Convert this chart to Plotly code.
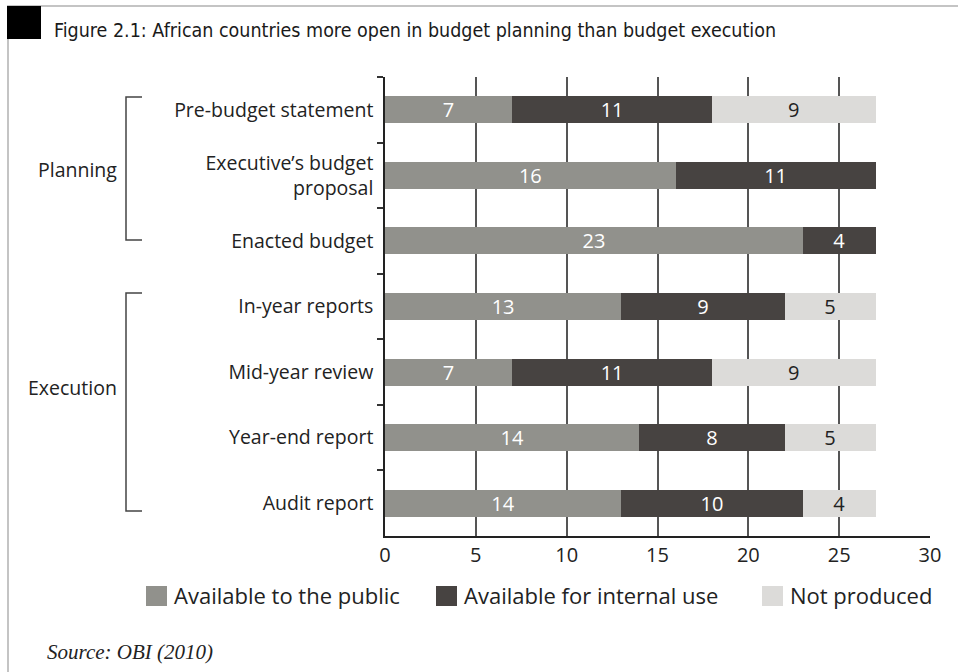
import plotly.graph_objects as go

# ---- data ----
categories = ["Pre-budget statement", "Executive’s budget<br>proposal", "Enacted budget",
              "In-year reports", "Mid-year review", "Year-end report", "Audit report"]
series_names = ["Available to the public", "Available for internal use", "Not produced"]
public = [7, 16, 23, 13, 7, 14, 13]
internal = [11, 11, 4, 9, 11, 8, 10]
not_produced = [9, 0, 0, 5, 9, 5, 4]
public_labels = ["7", "16", "23", "13", "7", "14", "14"]
internal_labels = ["11", "11", "4", "9", "11", "8", "10"]
not_produced_labels = ["9", "", "", "5", "9", "5", "4"]
x_ticks = [0, 5, 10, 15, 20, 25, 30]
groups = ["Planning", "Execution"]
title_text = "Figure 2.1: African countries more open in budget planning than budget execution"
source_text = "Source: OBI (2010)"

colors = ["#91918c", "#474341", "#dcdbd9"]
text_colors = ["#ffffff", "#ffffff", "#222222"]
FONT = "'Open Sans', Lato, sans-serif"

W, H = 958, 672
L, R, T, B = 385, 28, 77, 136
PW, PH = W - L - R, H - T - B


def px(xp):
    return (xp - L) / PW


def py(yp):
    return (H - B - yp) / PH


fig = go.Figure()
for name, vals, labs, col, tcol in zip(series_names,
                                       [public, internal, not_produced],
                                       [public_labels, internal_labels, not_produced_labels],
                                       colors, text_colors):
    fig.add_trace(go.Bar(
        y=categories, x=vals, name=name, orientation="h",
        marker=dict(color=col, line=dict(width=0)),
        text=labs, textposition="inside", insidetextanchor="middle", textangle=0,
        constraintext="none",
        textfont=dict(family=FONT, size=20, color=tcol),
        showlegend=False, hoverinfo="skip",
    ))

shapes = []
annotations = []

# frame lines
shapes.append(dict(type="line", xref="paper", yref="paper", x0=px(7), x1=px(958), y0=py(6), y1=py(6),
                   line=dict(color="#c4c4c4", width=2)))
shapes.append(dict(type="line", xref="paper", yref="paper", x0=px(8), x1=px(8), y0=py(6), y1=py(672),
                   line=dict(color="#c4c4c4", width=2)))
# black square
shapes.append(dict(type="rect", xref="paper", yref="paper", x0=px(7), x1=px(41), y0=py(6), y1=py(39),
                   fillcolor="#000000", line=dict(width=0)))

# brackets
for top, bot in [(97, 240), (293, 511)]:
    path = f"M {px(142)},{py(top)} L {px(126)},{py(top)} L {px(126)},{py(bot)} L {px(142)},{py(bot)}"
    shapes.append(dict(type="path", xref="paper", yref="paper", path=path,
                       line=dict(color="#444444", width=1.5)))

for g, yc in zip(groups, [169, 387]):
    annotations.append(dict(text=g, xref="paper", yref="paper", x=px(119), y=py(yc),
                            xanchor="right", yanchor="middle", showarrow=False,
                            font=dict(family=FONT, size=19.5, color="#222222")))

# title
annotations.append(dict(text=title_text, xref="paper", yref="paper", x=px(52), y=py(30),
                        xanchor="left", yanchor="middle", showarrow=False,
                        font=dict(family="'DejaVu Sans Condensed', Roboto, sans-serif",
                                  size=19.5, color="#1a1a1a")))
# source
annotations.append(dict(text=f"<i>{source_text}</i>", xref="paper", yref="paper", x=px(45), y=py(652),
                        xanchor="left", yanchor="middle", showarrow=False,
                        font=dict(family="'Liberation Serif', serif", size=21, color="#222222")))

# manual legend
leg_x = [146, 436, 762]
for name, col, lx in zip(series_names, colors, leg_x):
    shapes.append(dict(type="rect", xref="paper", yref="paper", x0=px(lx), x1=px(lx + 21),
                       y0=py(586), y1=py(606), fillcolor=col, line=dict(width=0)))
    annotations.append(dict(text=name, xref="paper", yref="paper", x=px(lx + 26), y=py(595),
                            xanchor="left", yanchor="middle", showarrow=False,
                            font=dict(family=FONT, size=22, color="#222222")))

fig.update_layout(
    width=W, height=H,
    margin=dict(l=L, r=R, t=T, b=B, pad=0),
    paper_bgcolor="white", plot_bgcolor="white",
    barmode="stack", bargap=0.59,
    shapes=shapes, annotations=annotations,
    xaxis=dict(range=[0, 30], tickvals=x_ticks, showgrid=True, gridcolor="#555555", gridwidth=1.5,
               zeroline=False, showline=True, linecolor="#222222", linewidth=1.5,
               ticks="", tickfont=dict(family=FONT, size=20, color="#222222"), fixedrange=True),
    yaxis=dict(categoryorder="array", categoryarray=categories, autorange="reversed",
               tickson="boundaries", ticks="outside", ticklen=6, tickcolor="#333333", tickwidth=1.5,
               showline=True, linecolor="#222222", linewidth=1.5, showgrid=False, zeroline=False,
               tickfont=dict(family=FONT, size=19.5, color="#222222"), ticklabelstandoff=6,
               fixedrange=True),
    font=dict(family=FONT),
)

fig.write_html("out.html")
